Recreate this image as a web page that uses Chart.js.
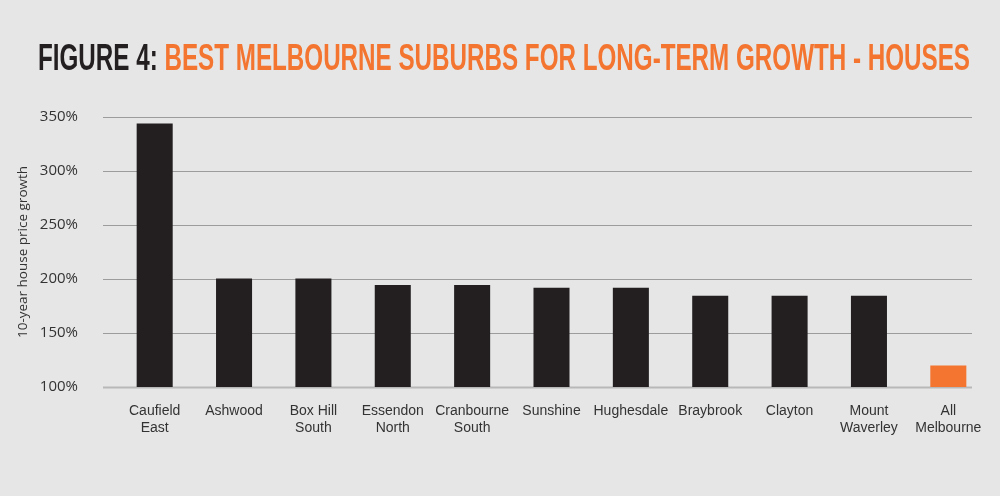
<!DOCTYPE html>
<html>
<head>
<meta charset="utf-8">
<script src="https://cdn.jsdelivr.net/npm/chart.js@4.4.1/dist/chart.umd.min.js"></script>
<style>
  html, body { margin: 0; padding: 0; background: #e6e6e6; }
  #wrap { width: 1000px; height: 496px; }
</style>
</head>
<body>
<div id="wrap"><canvas id="chart" width="1000" height="496"></canvas></div>
<script>
// chart data
const suburbs = [
    ['Caufield', 'East'], 'Ashwood', ['Box Hill', 'South'], ['Essendon', 'North'],
    ['Cranbourne', 'South'], 'Sunshine', 'Hughesdale', 'Braybrook', 'Clayton',
    ['Mount', 'Waverley'], ['All', 'Melbourne']
];
const growth = [344, 200.5, 200.5, 194.5, 194.5, 192, 192, 184.5, 184.5, 184.5, 120];
const yTicks = [100, 150, 200, 250, 300, 350];
const titleLead = 'FIGURE 4: ';
const titleRest = 'BEST MELBOURNE SUBURBS FOR LONG-TERM GROWTH - HOUSES';
const yTitle = '10-year house price growth';

const BLACK = '#231f20';
const ORANGE = '#f37530';

// background, title and grid lines (grid runs a bit wider than the bars)
const decor = {
    id: 'decor',
    beforeDraw(chart) {
        const ctx = chart.ctx;
        ctx.save();
        ctx.fillStyle = '#e6e6e6';
        ctx.fillRect(0, 0, chart.width, chart.height);

        ctx.font = 'bold 36px "Liberation Sans Narrow", "Liberation Sans", sans-serif';
        ctx.textBaseline = 'alphabetic';
        const w1 = ctx.measureText(titleLead).width;
        const w2 = ctx.measureText(titleRest).width;
        const sx = (970 - 38) / (w1 + w2);
        ctx.translate(38, 70);
        ctx.scale(sx, 1);
        ctx.fillStyle = BLACK;
        ctx.fillText(titleLead, 0, 0);
        ctx.fillStyle = ORANGE;
        ctx.fillText(titleRest, w1, 0);
        ctx.restore();

        const y = chart.scales.y;
        ctx.save();
        yTicks.forEach(function (v) {
            const py = Math.round(y.getPixelForValue(v)) + 0.5;
            ctx.strokeStyle = v === yTicks[0] ? '#b8b8b8' : '#9c9c9c';
            ctx.lineWidth = v === yTicks[0] ? 2 : 1.2;
            ctx.beginPath();
            ctx.moveTo(103, py);
            ctx.lineTo(972, py);
            ctx.stroke();
        });
        ctx.restore();
    }
};

new Chart(document.getElementById('chart'), {
    type: 'bar',
    data: {
        labels: suburbs,
        datasets: [{
            label: yTitle,
            data: growth,
            backgroundColor: growth.map(function (v, i) { return i === growth.length - 1 ? ORANGE : BLACK; }),
            borderWidth: 0,
            barPercentage: 0.454,
            categoryPercentage: 1
        }]
    },
    options: {
        responsive: false,
        animation: false,
        layout: { padding: { top: 117, right: 12, bottom: 0, left: 0 } },
        plugins: {
            legend: { display: false },
            tooltip: { enabled: false }
        },
        scales: {
            x: {
                grid: { display: false, drawTicks: false },
                border: { display: false },
                ticks: {
                    color: '#333',
                    padding: 15,
                    maxRotation: 0,
                    autoSkip: false,
                    font: { family: '"Liberation Sans Narrow", "Liberation Sans", sans-serif', size: 14, lineHeight: 1.26 }
                },
                afterFit(scale) { scale.height = 109; }
            },
            y: {
                min: 100,
                max: 350,
                grid: { display: false, drawTicks: false },
                border: { display: false },
                afterBuildTicks(scale) { scale.ticks = yTicks.map(function (v) { return { value: v }; }); },
                ticks: {
                    color: '#333',
                    padding: 37,
                    crossAlign: 'near',
                    font: { family: '"Open Sans", sans-serif', size: 15 },
                    callback: function (v) { return v + '%'; }
                },
                title: {
                    display: true,
                    text: yTitle,
                    color: '#333',
                    padding: { top: 15, bottom: 0 },
                    font: { family: '"Open Sans", sans-serif', size: 13.5, lineHeight: 1.2 }
                },
                afterFit(scale) { scale.width = 115; }
            }
        }
    },
    plugins: [decor]
});
</script>
</body>
</html>
